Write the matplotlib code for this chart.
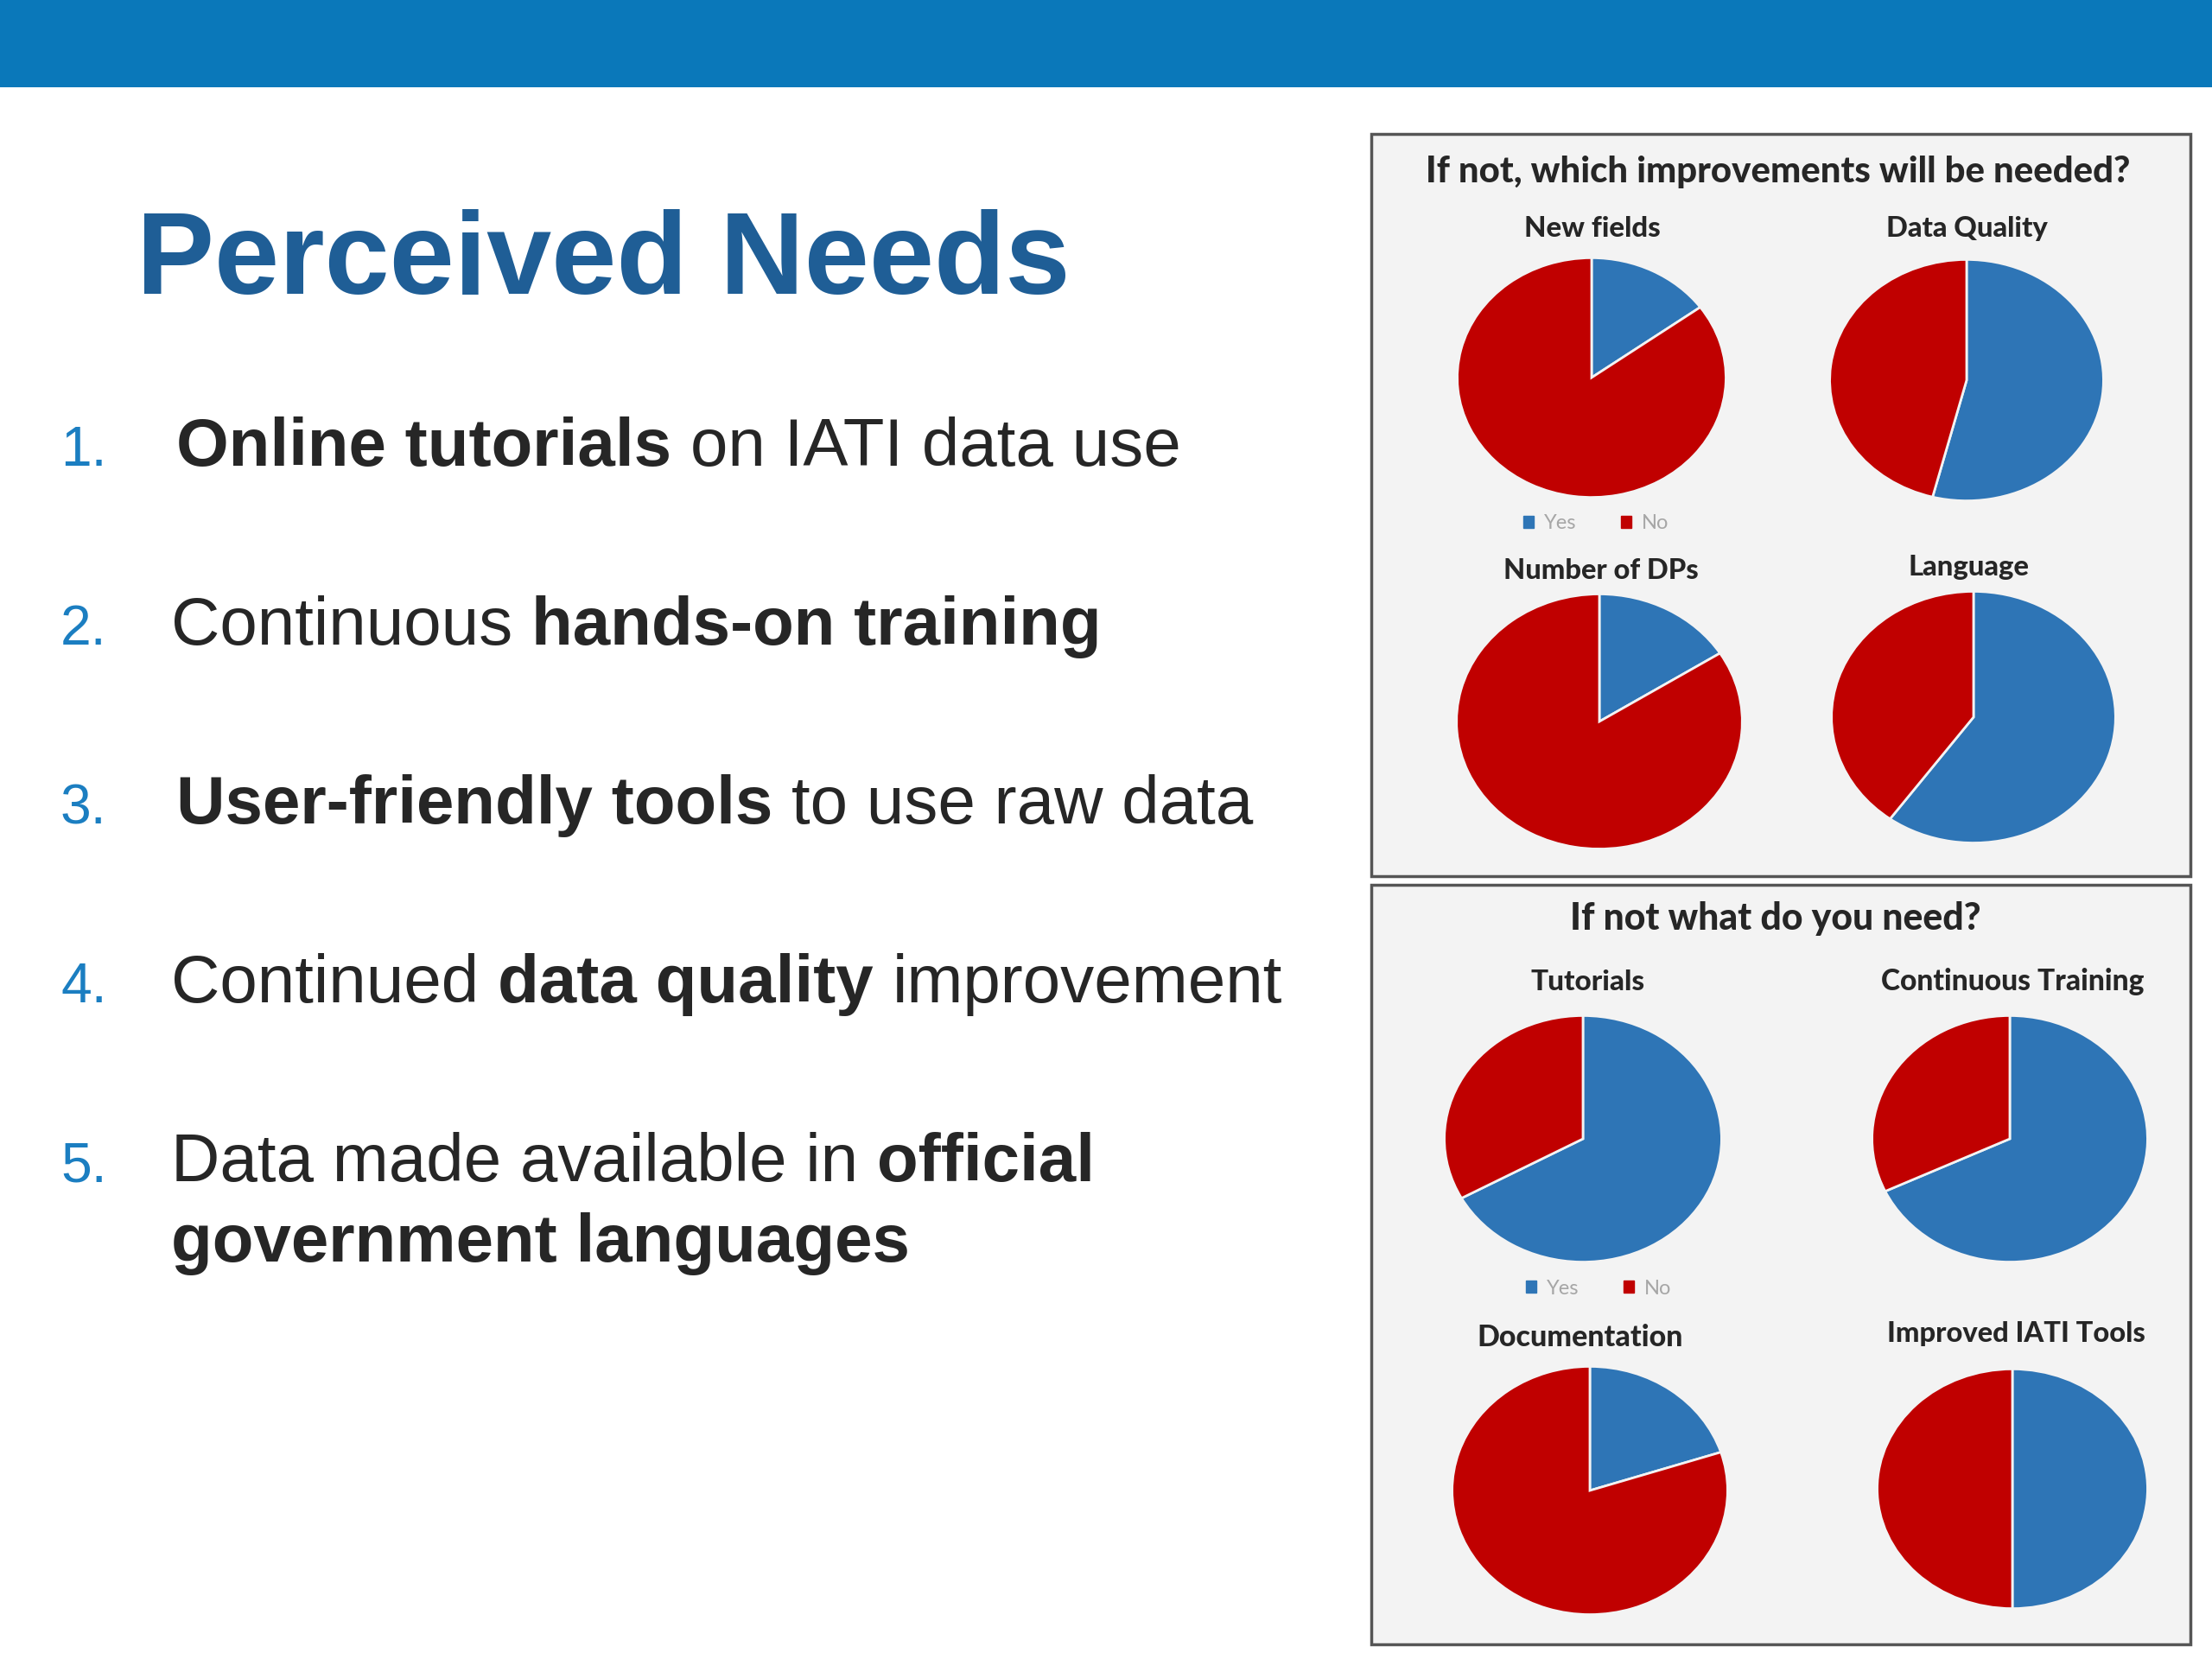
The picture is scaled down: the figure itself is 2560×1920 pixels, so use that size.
import matplotlib.pyplot as plt
from matplotlib.patches import Rectangle, Patch

# slide text
title = "Perceived Needs"
item_numbers = ["1.", "2.", "3.", "4.", "5.", ""]
item_parts = [
    [("Online tutorials", True), ("on IATI data use", False)],
    [("Continuous", False), ("hands-on training", True)],
    [("User-friendly tools", True), ("to use raw data", False)],
    [("Continued", False), ("data quality", True), ("improvement", False)],
    [("Data made available in", False), ("official", True)],
    [("government languages", True)],
]

# survey pies (percent Yes / No)
panel1_title = "If not, which improvements will be needed?"
panel1_labels = ["New fields", "Data Quality", "Number of DPs", "Language"]
panel1_yes = [15, 54, 16, 60]
panel1_no = [85, 46, 84, 40]

panel2_title = "If not what do you need?"
panel2_labels = ["Tutorials", "Continuous Training", "Documentation", "Improved IATI Tools"]
panel2_yes = [67, 68, 20, 50]
panel2_no = [33, 32, 80, 50]

legend_labels = ["Yes", "No"]

BLUE = "#2E75B6"
RED = "#C00000"
HEADER = "#0A78BA"
TITLE_BLUE = "#1F5E96"
NUM_BLUE = "#1B7EC1"
DARK = "#262626"
PANEL_BG = "#F3F3F3"

W, H = 2560, 1920
fig = plt.figure(figsize=(25.6, 19.2), dpi=100)
fig.patch.set_facecolor("white")
renderer = fig.canvas.get_renderer()


def fx(px):
    return px / W


def fy(py):
    return 1 - py / H


def fit_text(x, y, s, width, ha="left", **kw):
    t = fig.text(fx(x), fy(y), s, fontsize=40, ha=ha, va="baseline", **kw)
    w = t.get_window_extent(renderer).width
    t.set_fontsize(40 * width / w)
    return t


def text_width(s, size, weight):
    t = fig.text(0, 0, s, fontsize=size, fontweight=weight, family="Liberation Sans")
    w = t.get_window_extent(renderer).width
    t.remove()
    return w


def line_width(parts, size):
    total = 0
    for i, (s, bold) in enumerate(parts):
        total += text_width(s, size, "bold" if bold else "normal")
        if i > 0:
            total += text_width("a a", size, "normal") - text_width("aa", size, "normal")
    return total


def draw_line(x, y, parts, size):
    cx = x
    gap = text_width("a a", size, "normal") - text_width("aa", size, "normal")
    for s, bold in parts:
        t = fig.text(fx(cx), fy(y), s, fontsize=size, fontweight="bold" if bold else "normal",
                     family="Liberation Sans", color=DARK, va="baseline")
        cx = t.get_window_extent(renderer).x1 + gap


# header bar
fig.patches.append(Rectangle((0, fy(101)), 1, 101 / H, transform=fig.transFigure,
                             facecolor=HEADER, edgecolor="none", zorder=-2))

# title
fit_text(158, 340, title, 1078, family="Liberation Sans", fontweight="bold", color=TITLE_BLUE)

# bullet list
item_x = [204, 198, 204, 198, 198, 198]
item_y = [539, 746, 953, 1160, 1367, 1460]
item_w = [1161, 1076, 1245, 1285, 1066, 854]
sizes = sorted(40 * w / line_width(p, 40) for p, w in zip(item_parts, item_w))
size = sizes[len(sizes) // 2]
for num, parts, x, y in zip(item_numbers, item_parts, item_x, item_y):
    if num:
        fig.text(fx(70), fy(y), num, fontsize=size * 0.82, family="Liberation Sans",
                 color=NUM_BLUE, va="baseline")
    draw_line(x, y, parts, size)

# panels
for top, bottom in [(155, 1014), (1024, 1903)]:
    fig.patches.append(Rectangle((fx(1587), fy(bottom)), (2535 - 1587) / W, (bottom - top) / H,
                                 transform=fig.transFigure, facecolor=PANEL_BG,
                                 edgecolor="#555555", linewidth=2.5, zorder=-1))

fit_text(2058, 211, panel1_title, 815, ha="center", family="Lato", fontweight="black", color=DARK)
fit_text(2055, 1076, panel2_title, 475, ha="center", family="Lato", fontweight="black", color=DARK)

# label positions: (center x, baseline y, width)
label_pos1 = [(1843, 274, 158), (2276, 274, 187), (1853, 670, 225), (2278, 666, 140)]
label_pos2 = [(1838, 1146, 132), (2329, 1146, 304), (1829, 1558, 238), (2333, 1553, 299)]
# pie ellipse geometry: (cx, cy, rx, ry)
pie_pos1 = [(1842, 437, 157, 140), (2276, 440, 160, 141), (1851, 835, 167, 149), (2284, 830, 166, 147)]
pie_pos2 = [(1832, 1318, 162, 144), (2326, 1318, 161, 144), (1840, 1725, 161, 145), (2329, 1723, 158, 140)]


def draw_pie(cx, cy, rx, ry, yes, no):
    ax = fig.add_axes([fx(cx - rx), fy(cy + ry), 2 * rx / W, 2 * ry / H])
    ax.pie([yes, no], colors=[BLUE, RED], startangle=90, counterclock=False, radius=1,
           wedgeprops=dict(edgecolor=PANEL_BG, linewidth=2))
    ax.set_aspect("auto")
    ax.set_xlim(-1.01, 1.01)
    ax.set_ylim(-1.01, 1.01)
    ax.axis("off")


for labels, yes_vals, no_vals, lpos, ppos in [
    (panel1_labels, panel1_yes, panel1_no, label_pos1, pie_pos1),
    (panel2_labels, panel2_yes, panel2_no, label_pos2, pie_pos2),
]:
    for lab, yv, nv, (lx, ly, lw), (cx, cy, rx, ry) in zip(labels, yes_vals, no_vals, lpos, ppos):
        fit_text(lx, ly, lab, lw, ha="center", family="Lato", fontweight="black", color=DARK)
        draw_pie(cx, cy, rx, ry, yv, nv)

# legends
handles = [Patch(color=BLUE), Patch(color=RED)]
for lx, ly in [(1847, 606), (1850, 1491)]:
    fig.legend(handles, legend_labels, loc="center", bbox_to_anchor=(fx(lx), fy(ly)),
               ncol=2, frameon=False, handlelength=0.5, handleheight=0.5,
               handletextpad=0.5, columnspacing=2.2, labelcolor="#A6A6A6",
               prop={"family": "Lato", "size": 17})

fig.savefig("out.png", dpi=100)
